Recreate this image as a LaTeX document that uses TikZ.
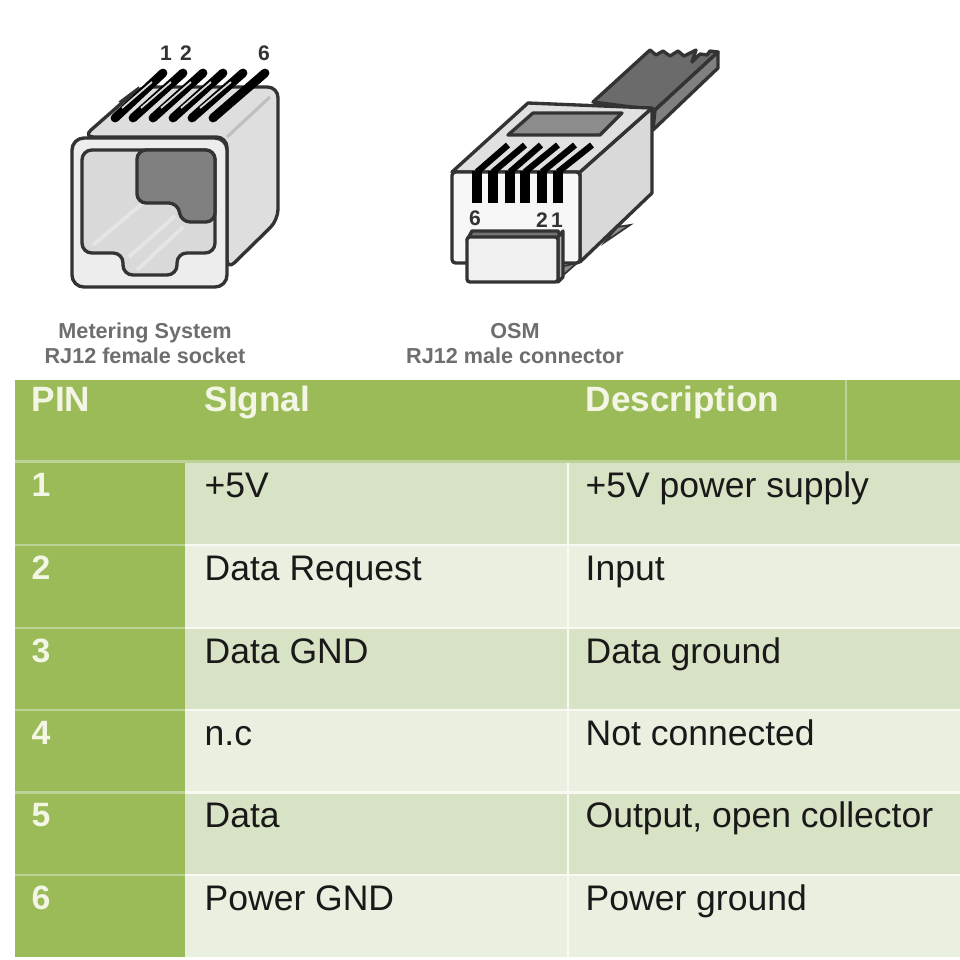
\documentclass[tikz,border=0pt]{standalone}
\usepackage{fontspec}
\setmainfont{Liberation Sans}
\definecolor{headgreen}{HTML}{9BBB59}
\definecolor{rowdark}{HTML}{D8E2C4}
\definecolor{rowlight}{HTML}{EAF0DF}
\definecolor{gapgreen}{HTML}{BDD296}
\definecolor{headtxt}{HTML}{F3F6E4}
\definecolor{capgrey}{HTML}{6E6E6E}
\definecolor{edgegrey}{HTML}{333333}

\begin{document}
\begin{tikzpicture}
      [x=0.01cm, y=-0.01cm,
      headcell/.style={anchor=base west, inner sep=0, text=headtxt, font=\fontsize{10}{12}\selectfont\bfseries},
      pincell/.style={anchor=base west, inner sep=0, text=headtxt, font=\fontsize{9.6}{12}\selectfont\bfseries},
      txtcell/.style={anchor=base west, inner sep=0, text=black!90, font=\fontsize{10.1}{12}\selectfont},
      caption/.style={anchor=base, inner sep=0, text=capgrey, font=\fontsize{6.15}{8}\selectfont\bfseries},
      pinnum/.style={anchor=base, inner sep=0, text=black!80, font=\fontsize{6}{8}\selectfont\bfseries},
      body/.style={draw=edgegrey, line width=0.95pt, line join=round},
      contact/.style={line width=2.5pt, line cap=round, black},
      plugpin/.style={line width=2.8pt, black},
      plugslot/.style={line width=1.8pt, black},
      streak/.style={line width=0.5pt, white!85!black},
      stripe/.style={line width=1.1pt, white!90!black}]
      \useasboundingbox (0, 0) rectangle (960, 960);
      \fill[white] (0, 0) rectangle (960, 960);

      % female socket
      \draw[body, fill=black!13, rounded corners=3pt] (83, 137) -- (140, 87) -- (278, 87)
        -- (278, 220) -- (227, 270) -- (227, 137) -- cycle;
      \draw[white!75!black, line width=0.9pt] (227, 137) -- (270, 97);
      \draw[contact] (115, 118) -- (163, 73);
      \draw[contact] (133, 118) -- (183, 73);
      \draw[contact] (153, 118) -- (203, 73);
      \draw[contact] (173, 118) -- (223, 73);
      \draw[contact] (192, 118) -- (243, 73);
      \draw[contact] (213, 118) -- (265, 73);
      \draw[streak] (122, 108) -- (152, 82);
      \draw[streak] (141, 108) -- (171, 82);
      \draw[streak] (161, 108) -- (191, 82);
      \draw[streak] (181, 108) -- (211, 82);
      \draw[streak] (200, 108) -- (231, 82);
      \draw[edgegrey, line width=0.4pt] (119, 102) -- (139, 87);
      \draw[body, fill=black!7, rounded corners=3.4pt] (72, 138) rectangle (227, 287);
      \draw[body, fill=black!15, rounded corners=2.8pt] (82, 150) -- (215, 150) -- (215, 253)
        -- (177, 253) -- (177, 275) -- (123, 275) -- (123, 253) -- (82, 253) -- cycle;
      \draw[stripe] (93, 245) -- (143, 203);
      \draw[stripe] (129, 257) -- (175, 216);
      \draw[stripe] (137, 270) -- (183, 227);
      \draw[body, fill=black!50, rounded corners=2.6pt] (137, 150) -- (215, 150) -- (215, 222)
        -- (181, 222) -- (178, 203) -- (137, 203) -- cycle;
      \node (f1) at (166, 60) [pinnum] {1};
      \node (f2) at (186, 60) [pinnum] {2};
      \node (f6) at (264, 60) [pinnum] {6};
      \node (capf1) at (145, 338) [caption] {Metering System};
      \node (capf2) at (145, 363) [caption] {RJ12 female socket};

      % male connector
      \draw[body, fill=black!58] (593, 102) -- (650, 50) -- (656, 55) -- (663, 51) -- (670, 56)
        -- (678, 51) -- (684, 56) -- (696, 50) -- (692, 62) -- (700, 54) -- (707, 55) -- (710, 51)
        -- (718, 52) -- (655, 110) -- cycle;
      \draw[body, fill=black!50] (718, 52) -- (718, 68) -- (653, 130) -- (655, 110) -- cycle;
      \draw[edgegrey, fill=black!45, line width=0.5pt] (617, 227) -- (630, 225) -- (605, 242) -- cycle;
      \draw[edgegrey, fill=black!45, line width=0.5pt] (560, 267) -- (577, 263) -- (560, 278) -- cycle;
      \draw[body, fill=black!15] (580, 172) -- (652, 108) -- (652, 193) -- (580, 262) -- cycle;
      \draw[body, fill=black!12] (452, 172) -- (528, 103) -- (652, 108) -- (580, 172) -- cycle;
      \draw[body, fill=black!45] (508, 135) -- (533, 113) -- (622, 113) -- (600, 135) -- cycle;
      \draw[body, fill=black!3, rounded corners=1pt] (452, 172) -- (580, 172) -- (580, 263) -- (452, 263) -- cycle;
      \draw[plugslot] (477, 172) -- (508, 145);
      \draw[plugslot] (493, 172) -- (525, 145);
      \draw[plugslot] (510, 172) -- (541, 145);
      \draw[plugslot] (525, 172) -- (558, 145);
      \draw[plugslot] (542, 172) -- (575, 145);
      \draw[plugslot] (558, 172) -- (592, 145);
      \draw[plugpin] (477, 203) -- (477, 171);
      \draw[plugpin] (493, 203) -- (493, 171);
      \draw[plugpin] (510, 203) -- (510, 171);
      \draw[plugpin] (525, 203) -- (525, 171);
      \draw[plugpin] (542, 203) -- (542, 171);
      \draw[plugpin] (558, 203) -- (558, 171);
      \node (m6) at (475, 225) [pinnum] {6};
      \node (m2) at (542, 227) [pinnum] {2};
      \node (m1) at (557, 227) [pinnum] {1};
      \draw[body, fill=black!55] (472, 231) -- (558, 231) -- (562, 240) -- (467, 240) -- cycle;
      \draw[body, fill=black!30] (558, 237) -- (563, 231) -- (563, 277) -- (558, 282) -- cycle;
      \draw[body, fill=black!6, rounded corners=0.8pt] (467, 237) rectangle (558, 282);
      \node (capm1) at (515, 338) [caption] {OSM};
      \node (capm2) at (515, 363) [caption] {RJ12 male connector};

      % table background
      \fill[headgreen] (15, 380) rectangle (960, 460);
      \draw[gapgreen, line width=0.5pt] (846, 380) -- (846, 460);
      \fill[gapgreen] (15, 460) rectangle (960, 463);
      \fill[rowdark] (185, 463) rectangle (960, 544);
      \fill[rowlight] (185, 546) rectangle (960, 627);
      \fill[rowdark] (185, 629) rectangle (960, 709);
      \fill[rowlight] (185, 711) rectangle (960, 791);
      \fill[rowdark] (185, 794) rectangle (960, 874);
      \fill[rowlight] (185, 876) rectangle (960, 957);
      \fill[gapgreen] (15, 463) rectangle (185, 957);
      \fill[headgreen] (15, 463) rectangle (185, 544);
      \fill[headgreen] (15, 546) rectangle (185, 627);
      \fill[headgreen] (15, 629) rectangle (185, 709);
      \fill[headgreen] (15, 711) rectangle (185, 791);
      \fill[headgreen] (15, 794) rectangle (185, 874);
      \fill[headgreen] (15, 876) rectangle (185, 957);
      \fill[white!60!rowlight] (185, 544) rectangle (960, 546);
      \fill[white!60!rowlight] (185, 627) rectangle (960, 629);
      \fill[white!60!rowlight] (185, 709) rectangle (960, 711);
      \fill[white!60!rowlight] (185, 791) rectangle (960, 794);
      \fill[white!60!rowlight] (185, 874) rectangle (960, 876);
      \draw[white!60!rowlight, line width=0.4pt] (568, 463) -- (568, 957);

      \node (hpin) at (31, 411) [headcell] {PIN};
      \node (hsig) at (204, 411) [headcell] {SIgnal};
      \node (hdes) at (585, 411) [headcell] {Description};

      \node (p1) at (31, 496) [pincell] {1};
      \node (s1) at (204, 497) [txtcell] {+5V};
      \node (d1) at (585, 497) [txtcell] {+5V power supply};
      \node (p2) at (31, 579) [pincell] {2};
      \node (s2) at (204, 580) [txtcell] {Data Request};
      \node (d2) at (585, 580) [txtcell] {Input};
      \node (p3) at (31, 662) [pincell] {3};
      \node (s3) at (204, 663) [txtcell] {Data GND};
      \node (d3) at (585, 663) [txtcell] {Data ground};
      \node (p4) at (31, 744) [pincell] {4};
      \node (s4) at (204, 745) [txtcell] {n.c};
      \node (d4) at (585, 745) [txtcell] {Not connected};
      \node (p5) at (31, 826) [pincell] {5};
      \node (s5) at (204, 827) [txtcell] {Data};
      \node (d5) at (585, 827) [txtcell] {Output, open collector};
      \node (p6) at (31, 909) [pincell] {6};
      \node (s6) at (204, 910) [txtcell] {Power GND};
      \node (d6) at (585, 910) [txtcell] {Power ground};
    \end{tikzpicture}
\end{document}
